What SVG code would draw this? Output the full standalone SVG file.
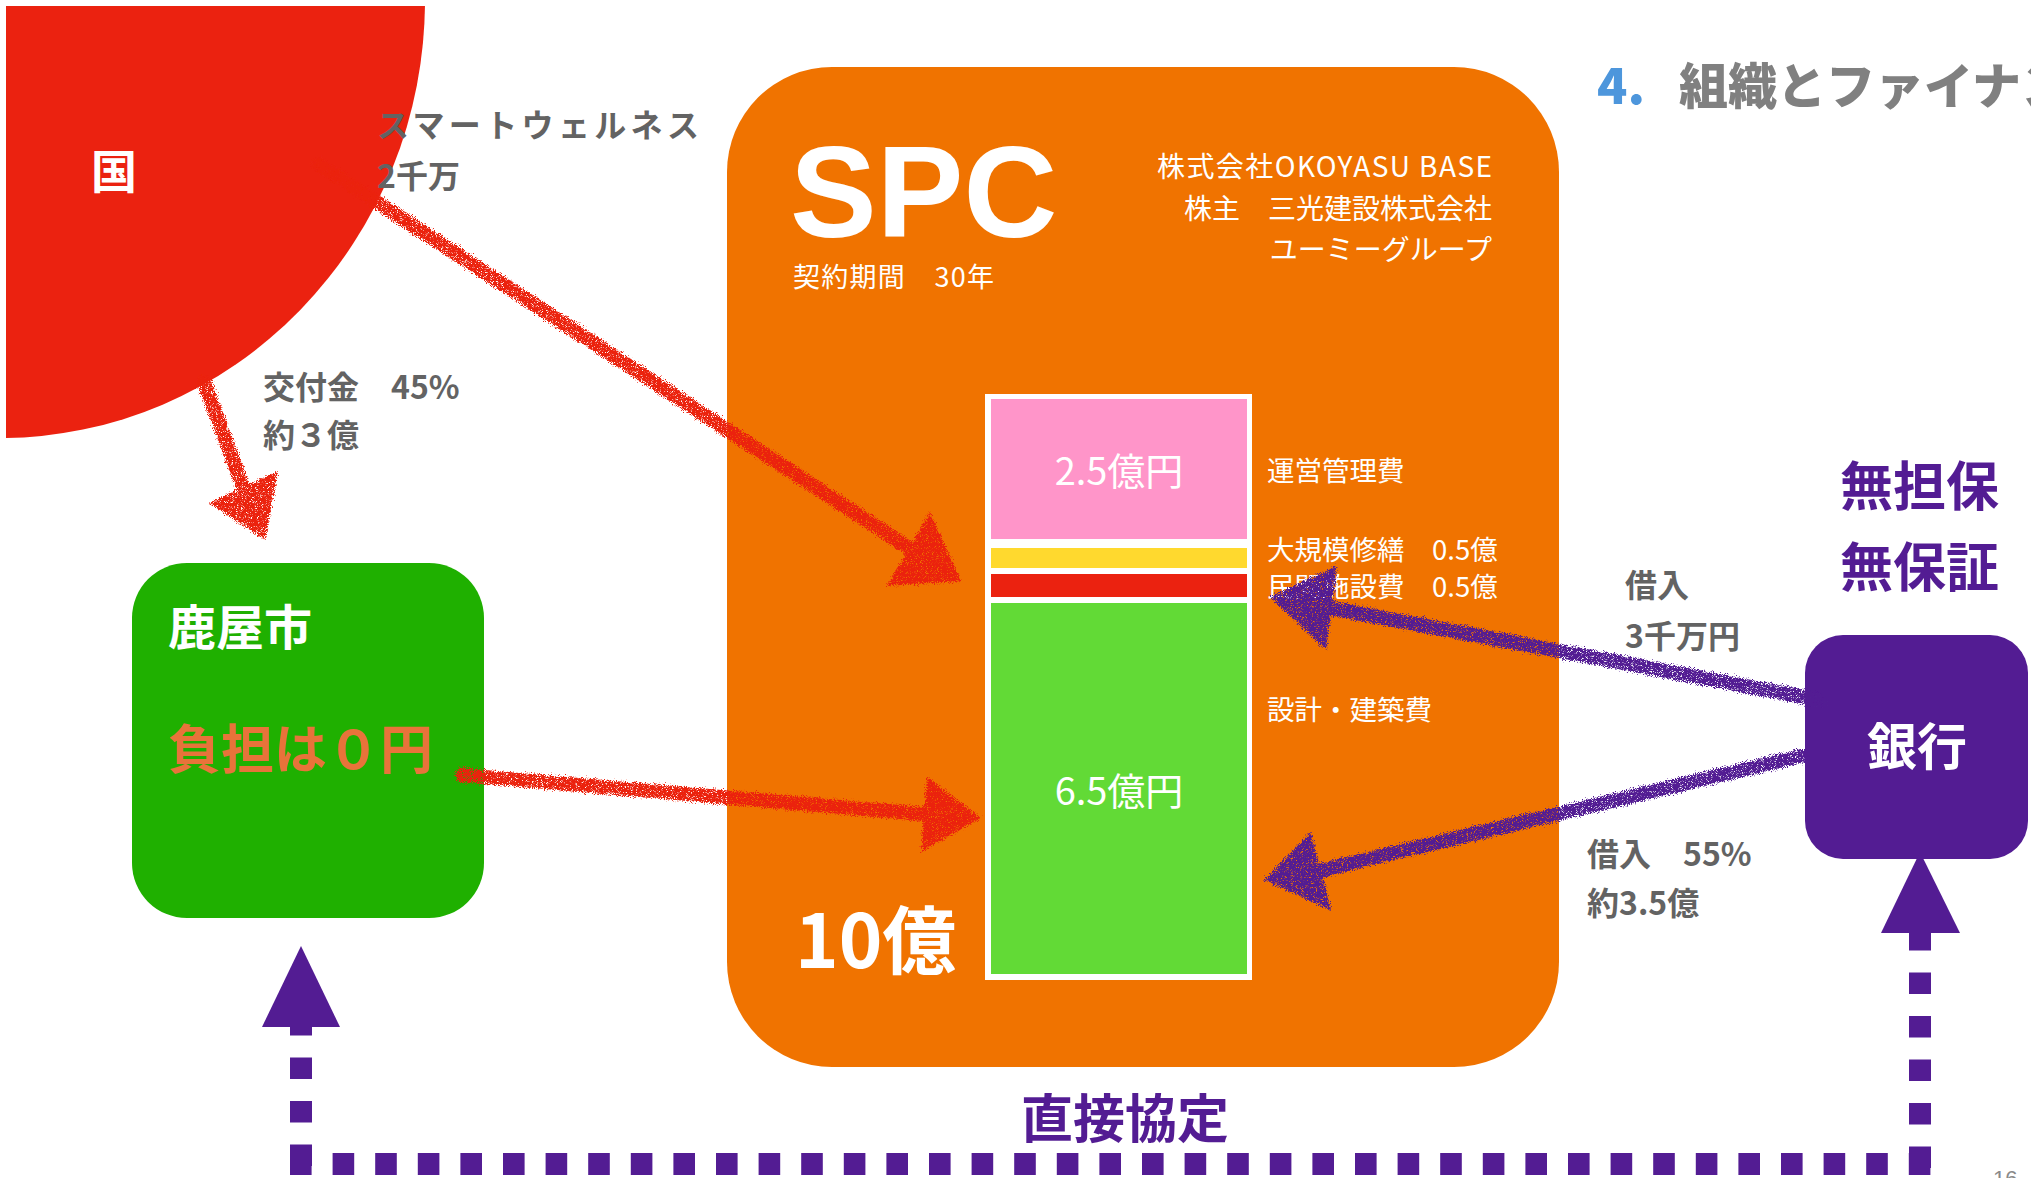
<svg xmlns="http://www.w3.org/2000/svg" width="2031" height="1178" viewBox="0 0 2031 1178">
<defs>
<style>
.jp{font-family:"Noto Sans CJK JP","Noto Sans",sans-serif}
.gray{fill:#636363;font-weight:bold;font-size:32px}
.wl{fill:#ffffff;font-size:27.5px}
.wb{fill:#ffffff;font-weight:bold}
.pb{fill:#531C93;font-weight:bold}
.rline{stroke:#EB2210;stroke-width:14;stroke-linecap:round;fill:none}
.pline{stroke:#531C93;stroke-width:14;stroke-linecap:round;fill:none}
.rhead{fill:#EB2210}
.phead{fill:#531C93}
.dots{stroke:#531C93;stroke-width:22;fill:none}
</style>
<clipPath id="pageclip"><rect x="6" y="6" width="2025" height="1172"/></clipPath>
<filter id="crayon" filterUnits="userSpaceOnUse" x="0" y="0" width="2031" height="1178">
<feTurbulence type="fractalNoise" baseFrequency="1.1" numOctaves="2" seed="4" result="n"/>
<feDisplacementMap in="SourceGraphic" in2="n" scale="9" xChannelSelector="R" yChannelSelector="G" result="d"/>
<feTurbulence type="fractalNoise" baseFrequency="1.8" numOctaves="1" seed="9" result="n2"/>
<feColorMatrix in="n2" type="matrix" values="0 0 0 0 0  0 0 0 0 0  0 0 0 0 0  6 0 0 0 -1.6" result="holes"/>
<feComposite in="d" in2="holes" operator="in"/>
</filter>
</defs>
<rect x="0" y="0" width="2031" height="1178" fill="#ffffff"/>

<g id="title" class="jp">
<text x="1597" y="104" font-size="50" font-weight="900" fill="#4D96DC">4.</text>
<text x="1679" y="104" font-size="49" font-weight="900" fill="#808080">組織とファイナン</text>
</g>

<g id="kuni">
<ellipse cx="0" cy="0" rx="425" ry="438" fill="#EB2210" clip-path="url(#pageclip)"/>
<text class="jp wb" x="114" y="188" font-size="46" text-anchor="middle">国</text>
</g>

<g id="spc">
<rect x="727" y="67" width="832" height="1000" rx="105" ry="105" fill="#F07300"/>
<text x="790" y="237" font-family="Liberation Sans, Arial, sans-serif" font-size="130" font-weight="bold" fill="#ffffff">SPC</text>
<text class="jp" x="793" y="287" font-size="27" fill="#ffffff" textLength="201" lengthAdjust="spacing">契約期間　30年</text>
<text class="jp" x="1492" y="177" font-size="28" fill="#ffffff" text-anchor="end" textLength="335" lengthAdjust="spacing">株式会社OKOYASU BASE</text>
<text class="jp" x="1492" y="219" font-size="28" fill="#ffffff" text-anchor="end">株主　三光建設株式会社</text>
<text class="jp" x="1492" y="260" font-size="28" fill="#ffffff" text-anchor="end">ユーミーグループ</text>
<g id="bar">
<rect x="985" y="394" width="267" height="586" fill="#ffffff"/>
<rect x="991" y="399" width="256" height="140" fill="#FF95C9"/>
<rect x="991" y="548" width="256" height="20" fill="#FFD92E"/>
<rect x="991" y="574" width="256" height="23" fill="#EB2210"/>
<rect x="991" y="603" width="256" height="371" fill="#62DA36"/>
<text class="jp" x="1119" y="485" font-size="38" fill="#ffffff" text-anchor="middle">2.5億円</text>
<text class="jp" x="1119" y="805" font-size="38" fill="#ffffff" text-anchor="middle">6.5億円</text>
</g>
<text class="jp wl" x="1267" y="481">運営管理費</text>
<text class="jp wl" x="1267" y="560">大規模修繕　0.5億</text>
<text class="jp wl" x="1267" y="597">民間施設費　0.5億</text>
<text class="jp wl" x="1267" y="720">設計・建築費</text>
<text class="jp wb" x="795" y="968" font-size="74">10億</text>
</g>

<g id="kanoya">
<rect x="132" y="563" width="352" height="355" rx="55" ry="55" fill="#1FB000"/>
<text class="jp wb" x="168" y="645" font-size="48">鹿屋市</text>
<text class="jp" x="168" y="769" font-size="53" font-weight="bold" fill="#E8733A">負担は０円</text>
</g>

<g id="bank">
<rect x="1805" y="635" width="223" height="224" rx="38" ry="38" fill="#531C93"/>
<text class="jp wb" x="1917" y="765" font-size="50" text-anchor="middle">銀行</text>
<text class="jp pb" x="1840" y="506" font-size="53">無担保</text>
<text class="jp pb" x="1840" y="587" font-size="53">無保証</text>
</g>

<g id="labels" class="jp">
<text class="gray" x="377" y="137" font-size="34" textLength="322" lengthAdjust="spacing">スマートウェルネス</text>
<text class="gray" x="377" y="188">2千万</text>
<text class="gray" x="263" y="399">交付金　45%</text>
<text class="gray" x="263" y="447">約３億</text>
<text class="gray" x="1625" y="597">借入</text>
<text class="gray" x="1625" y="648">3千万円</text>
<text class="gray" x="1587" y="866">借入　55%</text>
<text class="gray" x="1587" y="915">約3.5億</text>
<text class="jp pb" x="1021" y="1138" font-size="52">直接協定</text>
<text x="1993" y="1186" font-family="Liberation Sans, Arial, sans-serif" font-size="22" fill="#8a8a8a">16</text>
</g>

<g id="connectors">
<g filter="url(#crayon)">
<line class="rline" x1="318" y1="164" x2="912" y2="550"/>
<polygon class="rhead" points="961,581 930,512 887,586"/>
<line class="rline" x1="204" y1="382" x2="243" y2="487"/>
<polygon class="rhead" points="278,471 209,503 265,540"/>
<line class="rline" x1="462" y1="775" x2="924" y2="814"/>
<polygon class="rhead" points="927,777 921,852 981,818"/>
<line class="pline" x1="1820" y1="700" x2="1330" y2="608"/>
<polygon class="phead" points="1337,566 1326,650 1270,597"/>
<line class="pline" x1="1801" y1="756" x2="1322" y2="870"/>
<polygon class="phead" points="1311,832 1331,910 1264,880"/>
</g>
<g id="direct-agreement">
<line class="dots" x1="301" y1="1014" x2="301" y2="1166" stroke-dasharray="21.5 22"/>
<line class="dots" x1="290" y1="1164" x2="1931" y2="1164" stroke-dasharray="21.6 21"/>
<line class="dots" x1="1920" y1="929" x2="1920" y2="1170" stroke-dasharray="21.5 22"/>
<polygon class="phead" points="301,946 262,1027 340,1027"/>
<polygon class="phead" points="1920,852 1881,933 1960,933"/>
</g>
</g>
</svg>
